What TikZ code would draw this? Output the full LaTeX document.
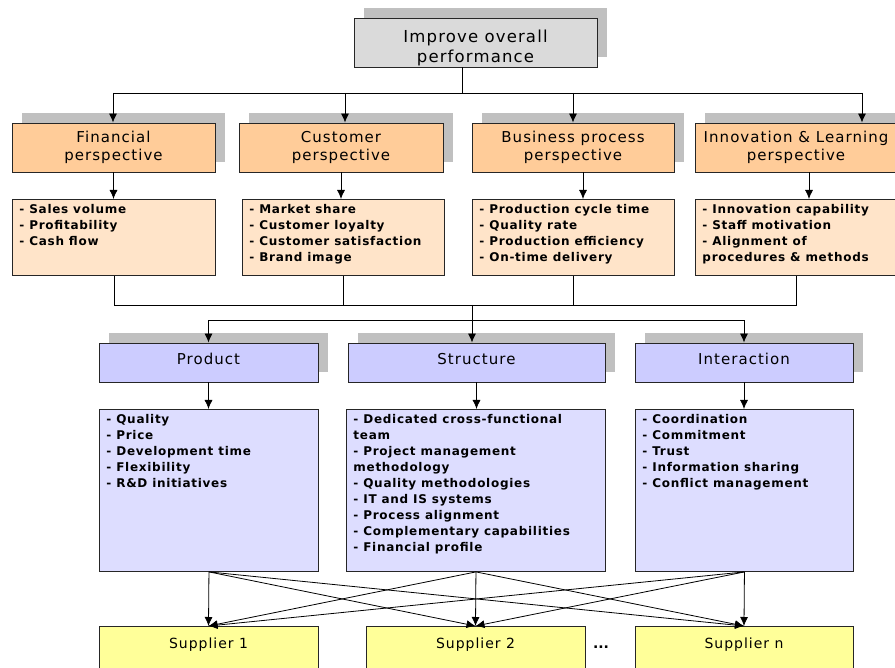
\documentclass[tikz,border=0pt]{standalone}
\usepackage{fontspec}
\setmainfont{DejaVu Sans}
\newfontfamily\headfont[LetterSpace=7]{DejaVu Sans}
\newfontfamily\itemfont[LetterSpace=6]{DejaVu Sans}
\usetikzlibrary{arrows,arrows.meta,positioning,shadows}

\definecolor{shadowgray}{RGB}{192,192,192}
\definecolor{goalgray}{RGB}{218,218,218}
\definecolor{perspfill}{RGB}{255,204,153}
\definecolor{measfill}{RGB}{255,228,201}
\definecolor{dimfill}{RGB}{204,204,255}
\definecolor{critfill}{RGB}{221,221,255}
\definecolor{suppfill}{RGB}{255,255,153}

\newcommand{\itemtext}[3]{\parbox[t][#2][t]{#1}{#3}}

\tikzset{
  cell/.style={draw=black!85, line width=0.9pt, inner sep=2pt},
  shade cell/.style={cell, drop shadow={shadow xshift=10pt, shadow yshift=10pt, fill=shadowgray, opacity=1}},
  goal/.style={shade cell, fill=goalgray, minimum width=243pt, minimum height=49pt, align=center,
    text height=41pt, text depth=0pt, font=\headfont\fontsize{16.5}{20}\selectfont},
  persp/.style={shade cell, fill=perspfill, minimum width=203pt, minimum height=49pt, align=center,
    font=\headfont\fontsize{15}{18}\selectfont},
  measure/.style={cell, fill=measfill, anchor=north west, inner xsep=7pt, inner ysep=5pt,
    font=\itemfont\bfseries\fontsize{12}{16}\selectfont},
  dimbox/.style={shade cell, fill=dimfill, minimum height=39pt, text height=12pt, text depth=8pt,
    font=\headfont\fontsize{15}{18}\selectfont},
  crit/.style={measure, fill=critfill},
  supp/.style={cell, fill=suppfill, anchor=north, minimum width=219pt, inner ysep=4pt,
    text height=18pt, text depth=40pt, font=\headfont\fontsize{14}{16}\selectfont},
  conn/.style={line width=0.8pt}
}

\begin{document}
\begin{tikzpicture}[x=1pt,y=-1pt,>={Latex[length=9pt,width=8pt]}]
  \useasboundingbox (0,0) rectangle (895,668);

  \node[goal] (goal) at (475.5,42.5) {Improve overall\\performance};

  \node[persp] (fin) at (113.5,147.5) {Financial\\perspective};
  \node[persp, minimum width=204pt] (cus) at (341,147.5) {Customer\\perspective};
  \node[persp, minimum width=202pt] (bus) at (573,147.5) {Business process\\perspective};
  \node[persp, minimum width=202pt] (inn) at (796,147.5) {Innovation \& Learning\\perspective};

  \node[measure] (finl) at (12,199) {\itemtext{189pt}{66pt}{- Sales volume\\- Profitability\\- Cash flow}};
  \node[measure] (cusl) at (242,199) {\itemtext{188pt}{66pt}{- Market share\\- Customer loyalty\\- Customer satisfaction\\- Brand image}};
  \node[measure] (busl) at (472,199) {\itemtext{188pt}{66pt}{- Production cycle time\\- Quality rate\\- Production efficiency\\- On-time delivery}};
  \node[measure] (innl) at (695,199) {\itemtext{188pt}{66pt}{- Innovation capability\\- Staff motivation\\- Alignment of\\procedures \& methods}};

  \node[dimbox, minimum width=219pt] (prod) at (208.5,362.5) {Product};
  \node[dimbox, minimum width=257pt] (str) at (476.5,362.5) {Structure};
  \node[dimbox, minimum width=218pt] (int) at (744,362.5) {Interaction};

  \node[crit] (prodl) at (99,409) {\itemtext{205pt}{152pt}{- Quality\\- Price\\- Development time\\- Flexibility\\- R\&D initiatives}};
  \node[crit] (strl) at (346,409) {\itemtext{245pt}{152pt}{- Dedicated cross-functional\\team\\- Project management\\methodology\\- Quality methodologies\\- IT and IS systems\\- Process alignment\\- Complementary capabilities\\- Financial profile}};
  \node[crit] (intl) at (635,409) {\itemtext{204pt}{152pt}{- Coordination\\- Commitment\\- Trust\\- Information sharing\\- Conflict management}};

  \node[supp] (s1) at (208.5,626) {Supplier 1};
  \node[supp] (s2) at (475.5,626) {Supplier 2};
  \node[supp, minimum width=218pt] (sn) at (744,626) {Supplier n};
  \node[font=\bfseries\fontsize{14}{16}\selectfont] (dots) at (601,647) {...};

  \coordinate (hub) at (462,93);
  \coordinate (a1) at (113,93);
  \coordinate (a2) at (345,93);
  \coordinate (a3) at (573,93);
  \coordinate (a4) at (862,93);
  \draw[conn] (goal.south -| hub) -- (hub);
  \draw[conn] (a1) -- (a4);
  \foreach \c/\n in {a1/fin,a2/cus,a3/bus,a4/inn}
    \draw[conn,->] (\c) -- (\c |- \n.north);

  \draw[conn,->] (fin.south) -- (finl.north -| fin.south);
  \draw[conn,->] (cus.south) -- (cusl.north -| cus.south);
  \draw[conn,->] ([xshift=10pt]bus.south) -- ([xshift=10pt]bus.south |- busl.north);
  \draw[conn,->] ([xshift=13pt]inn.south) -- ([xshift=13pt]inn.south |- innl.north);

  \coordinate (join) at (472,305);
  \coordinate (split) at (472,320);
  \draw[conn] (finl.south) |- (join);
  \draw[conn] (innl.south) |- (join);
  \draw[conn] (cusl.south) -- (cusl.south |- join);
  \draw[conn] (busl.south) -- (busl.south |- join);
  \draw[conn] (join) -- (split);
  \draw[conn,->] (split) -| (prod.north);
  \draw[conn,->] (split) -| (int.north);
  \draw[conn,->] (split) -- (split |- str.north);

  \draw[conn,->] (prod.south) -- (prodl.north -| prod.south);
  \draw[conn,->] (str.south) -- (strl.north -| str.south);
  \draw[conn,->] (int.south) -- (intl.north -| int.south);

  \foreach \a in {prodl,strl,intl}
    \foreach \b in {s1,s2,sn}
      \draw[conn,->] (\a.south) -- (\b.north);
\end{tikzpicture}
\end{document}
